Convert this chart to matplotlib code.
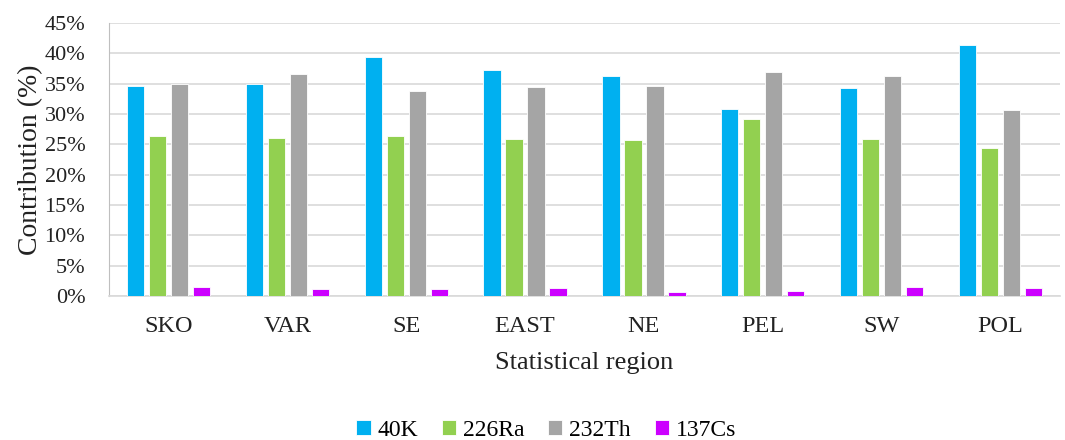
import numpy as np
import matplotlib.pyplot as plt
from matplotlib.ticker import PercentFormatter

regions = ['SKO', 'VAR', 'SE', 'EAST', 'NE', 'PEL', 'SW', 'POL']
k40 = [34.6, 35.0, 39.4, 37.3, 36.2, 30.8, 34.3, 41.3]
ra226 = [26.3, 26.1, 26.3, 25.9, 25.7, 29.1, 25.9, 24.4]
th232 = [35.0, 36.5, 33.8, 34.4, 34.6, 36.9, 36.3, 30.6]
cs137 = [1.5, 1.1, 1.1, 1.3, 0.7, 0.9, 1.5, 1.3]

series = [('40K', k40, '#00B0F0'), ('226Ra', ra226, '#92D050'),
          ('232Th', th232, '#A5A5A5'), ('137Cs', cs137, '#CC00FF')]

plt.rcParams['font.family'] = ['Liberation Serif', 'DejaVu Serif']

fig = plt.figure(figsize=(10.65, 4.4), dpi=100)
ax = fig.add_axes([0.1023, 0.327, 0.893, 0.621])

x = np.arange(len(regions))
w = 0.145
step = 0.185
for i, (name, vals, col) in enumerate(series):
    ax.bar(x + (i - 1.5) * step, vals, w, color=col, label=name,
           edgecolor='white', linewidth=0.6, zorder=3)

ax.set_xlim(-0.5, len(regions) - 0.5)
ax.set_ylim(0, 45)
ax.set_yticks(np.arange(0, 46, 5))
ax.yaxis.set_major_formatter(PercentFormatter(decimals=0))
ax.set_xticks(x)
ax.set_xticklabels(regions)
ax.tick_params(axis='both', length=0, colors='#222222')
ax.tick_params(axis='y', labelsize=16, pad=17)
ax.tick_params(axis='x', labelsize=17.5, pad=14)
ax.grid(axis='y', color='#d9d9d9', linewidth=1.2, zorder=0)
for s in ['top', 'right']:
    ax.spines[s].set_visible(False)
ax.spines['left'].set_color('#bfbfbf')
ax.spines['bottom'].set_color('#d9d9d9')
ax.spines['bottom'].set_linewidth(1.2)

ax.set_ylabel('Contribution (%)', fontsize=20, color='#222222', labelpad=1)
ax.set_xlabel('Statistical region', fontsize=19, color='#222222', labelpad=11)

fig.legend(loc='center', bbox_to_anchor=(0.513, 0.022), ncol=4, frameon=False,
           fontsize=17, handlelength=0.6, handleheight=0.6, handletextpad=0.3,
           columnspacing=1.0)

fig.savefig('out.png', dpi=100)
